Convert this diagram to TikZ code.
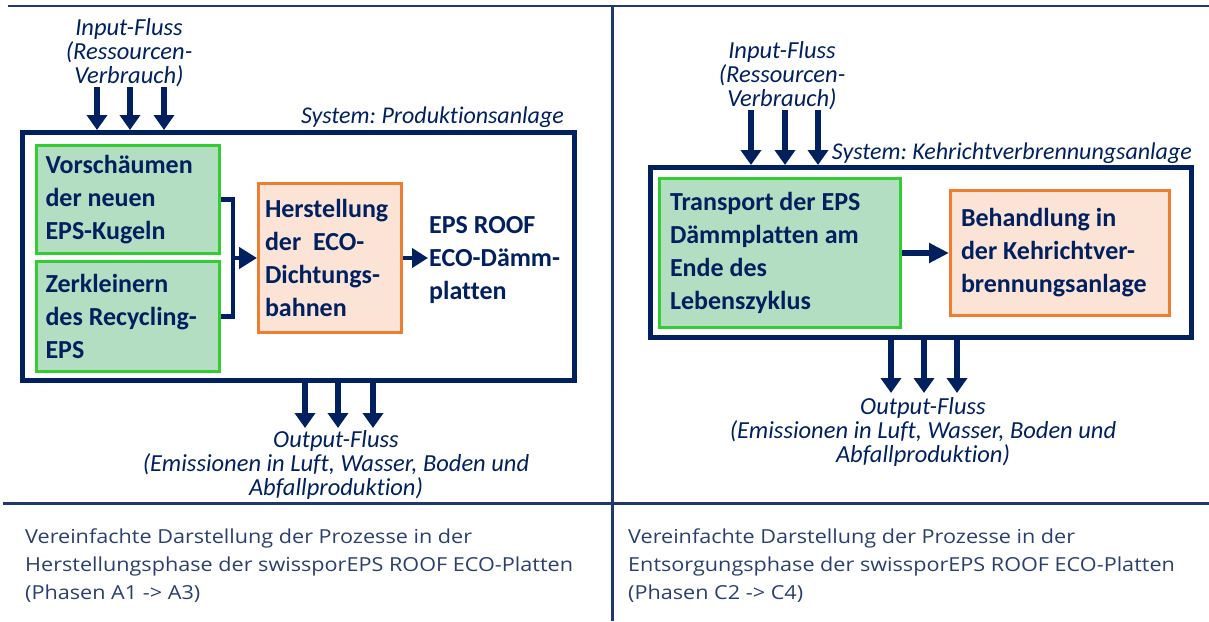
\documentclass[tikz,border=0pt]{standalone}
\usepackage{fontspec}
\setmainfont{Carlito}[Ligatures=NoCommon]
\newfontfamily\capfont[FakeStretch=1.12]{Open Sans}
\usetikzlibrary{arrows.meta}
\definecolor{navy}{HTML}{002060}
\definecolor{rulec}{HTML}{1F3872}
\definecolor{capc}{HTML}{2B3F6E}
\definecolor{gfill}{HTML}{B4DEC1}
\definecolor{gline}{HTML}{33CC33}
\definecolor{ofill}{HTML}{FBE4D6}
\definecolor{oline}{HTML}{ED7D31}
\frenchspacing
\begin{document}
\begin{tikzpicture}[x=1pt,y=-1pt,
  sysbox/.style={draw=navy,line width=5pt,inner sep=0pt},
  procbox/.style={line width=3pt,align=flush left,text=navy,inner ysep=0pt,
    font={\fontsize{26}{33}\selectfont\bfseries}},
  gbox/.style={procbox,draw=gline,fill=gfill},
  obox/.style={procbox,draw=oline,fill=ofill},
  flowlbl/.style={text=navy,align=center,inner sep=0pt,
    font={\fontsize{24.5}{24}\selectfont\itshape}},
  syslbl/.style={text=navy,inner sep=0pt,font={\fontsize{24}{24}\selectfont\itshape}},
  caption/.style={text=capc,align=left,inner sep=0pt,
    font={\capfont\fontsize{19.3}{28}\selectfont}},
  flow/.style={draw=navy,line width=5.5pt,-{Triangle[length=15pt,width=20pt]}},
  divider/.style={draw=rulec,line width=2.5pt}]
\useasboundingbox (0,0) rectangle (1209,621);
% dividers
\coordinate (tl) at (8,6);
\coordinate (tr) at (1209,6);
\coordinate (vt) at (612.5,6);
\coordinate (vb) at (612.5,621);
\coordinate (hl) at (3,503.5);
\coordinate (hr) at (1209,503.5);
\draw[divider] (tl) -- (tr);
\draw[divider] (vt) -- (vb);
\draw[divider] (hl) -- (hr);

% ===== left diagram =====
\node[sysbox,minimum width=552pt,minimum height=248pt] (sysL) at (298.5,256.5) {};
\node[syslbl,anchor=east] (sysLlbl) at (564,117) {System: Produktionsanlage};
\node[gbox,text width=165pt,inner xsep=9pt,minimum height=108pt] (g1) at (128,199.5)
  {Vorschäumen\\der neuen\\EPS-Kugeln};
\node[gbox,text width=165pt,inner xsep=9pt,minimum height=110pt] (g2) at (128,316.5)
  {Zerkleinern\\des Recycling-\\EPS};
\node[obox,text width=130pt,inner xsep=6.5pt,minimum height=149pt] (o1) at (330,258)
  {Herstellung\\der\ \ ECO-\\Dichtungs-\\bahnen};
\node[text=navy,align=flush left,anchor=west,inner xsep=1pt,inner ysep=0pt,
  font={\fontsize{26}{33}\selectfont\bfseries}] (eps) at (428,260)
  {EPS ROOF\\ECO-Dämm-\\platten};
\draw[draw=navy,line width=4.5pt] (g1.east) -- ++(12,0) coordinate (b1) |- (g2.east);
\coordinate (br) at (232,258);
\draw[flow,line width=4.5pt,-{Triangle[length=18pt,width=21pt]}] (br) -- (o1.west);
\draw[flow,line width=4.5pt,-{Triangle[length=16pt,width=19pt]}] (o1.east) -- (eps.west |- o1.east);

\node[flowlbl] (inL) at (129,53) {Input-Fluss\\(Ressourcen-\\Verbrauch)};
\coordinate (iL1) at (97,87);
\coordinate (iL2) at (130,87);
\coordinate (iL3) at (164,87);
\draw[flow] (iL1) -- (iL1 |- sysL.north);
\draw[flow] (iL2) -- (iL2 |- sysL.north);
\draw[flow] (iL3) -- (iL3 |- sysL.north);

\coordinate (oL1) at (305,428);
\coordinate (oL2) at (338,428);
\coordinate (oL3) at (373,428);
\draw[flow] (oL1 |- sysL.south) -- (oL1);
\draw[flow] (oL2 |- sysL.south) -- (oL2);
\draw[flow] (oL3 |- sysL.south) -- (oL3);
\node[flowlbl] (outL) at (336,465) {Output-Fluss\\(Emissionen in Luft, Wasser, Boden und\\Abfallproduktion)};

% ===== right diagram =====
\node[sysbox,minimum width=541pt,minimum height=170pt] (sysR) at (921,252.5) {};
\node[syslbl,anchor=east] (sysRlbl) at (1192,153) {System: Kehrichtverbrennungsanlage};
\node[gbox,text width=220pt,inner xsep=10.5pt,minimum height=149pt] (g3) at (780,253)
  {Transport der EPS\\Dämmplatten am\\Ende des\\Lebenszyklus};
\node[obox,text width=198pt,inner xsep=10.5pt,minimum height=125pt] (o3) at (1060,253)
  {Behandlung in\\der Kehrichtver-\\brennungsanlage};
\draw[flow,-{Triangle[length=20pt,width=19pt]}] (g3.east) -- (o3.west);

\node[flowlbl] (inR) at (782,76) {Input-Fluss\\(Ressourcen-\\Verbrauch)};
\coordinate (iR1) at (751,110);
\coordinate (iR2) at (785,110);
\coordinate (iR3) at (818,110);
\draw[flow] (iR1) -- (iR1 |- sysR.north);
\draw[flow] (iR2) -- (iR2 |- sysR.north);
\draw[flow] (iR3) -- (iR3 |- sysR.north);

\coordinate (oR1) at (891,393);
\coordinate (oR2) at (924,393);
\coordinate (oR3) at (957,393);
\draw[flow] (oR1 |- sysR.south) -- (oR1);
\draw[flow] (oR2 |- sysR.south) -- (oR2);
\draw[flow] (oR3 |- sysR.south) -- (oR3);
\node[flowlbl] (outR) at (923,432) {Output-Fluss\\(Emissionen in Luft, Wasser, Boden und\\Abfallproduktion)};

% captions
\node[caption,anchor=west] (capL) at (25,566)
  {Vereinfachte Darstellung der Prozesse in der\\Herstellungsphase der swissporEPS ROOF ECO-Platten\\(Phasen A1 -> A3)};
\node[caption,anchor=west] (capR) at (628,566)
  {Vereinfachte Darstellung der Prozesse in der\\Entsorgungsphase der swissporEPS ROOF ECO-Platten\\(Phasen C2 -> C4)};
\end{tikzpicture}
\end{document}
